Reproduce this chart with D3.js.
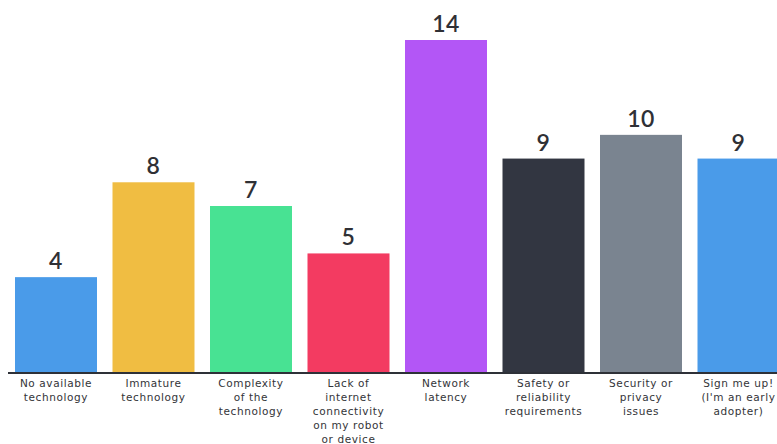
<!DOCTYPE html>
<html>
<head>
<meta charset="utf-8">
<script src="https://cdn.jsdelivr.net/npm/d3@7"></script>
<style>
  html, body { margin: 0; padding: 0; background: #ffffff; overflow: hidden; }
  svg { display: block; }
</style>
</head>
<body>
<svg id="chart" width="777" height="444"></svg>
<script>
// Survey responses: obstacles to remote robot operation
const categories = [
  ["No available", "technology"],
  ["Immature", "technology"],
  ["Complexity", "of the", "technology"],
  ["Lack of", "internet", "connectivity", "on my robot", "or device"],
  ["Network", "latency"],
  ["Safety or", "reliability", "requirements"],
  ["Security or", "privacy", "issues"],
  ["Sign me up!", "(I'm an early", "adopter)"]
];
const values = [4, 8, 7, 5, 14, 9, 10, 9];
const colors = ["#4a9be9", "#f0bd42", "#48e293", "#f33b61", "#b356f6", "#323641", "#7a8490", "#4a9be9"];

const svg = d3.select("#chart");
const baseY = 372;
const keys = categories.map((c, i) => i);

const x = d3.scaleBand()
  .domain(keys)
  .range([7.25, 787.25])
  .paddingInner(0.159)
  .paddingOuter(0.0795);

const y = d3.scaleLinear()
  .domain([0, 14])
  .range([baseY, 40]);

// bars
svg.selectAll("rect.bar")
  .data(values)
  .join("rect")
  .attr("class", "bar")
  .attr("x", (d, i) => x(i))
  .attr("y", d => y(d))
  .attr("width", x.bandwidth())
  .attr("height", d => baseY - y(d))
  .attr("fill", (d, i) => colors[i]);

// value labels
svg.selectAll("text.val")
  .data(values)
  .join("text")
  .attr("class", "val")
  .attr("x", (d, i) => x(i) + x.bandwidth() / 2)
  .attr("y", d => y(d) - 8)
  .attr("text-anchor", "middle")
  .attr("font-family", "Lato, sans-serif")
  .attr("font-weight", 600)
  .attr("font-size", 23)
  .attr("letter-spacing", 0.5)
  .attr("fill", "#2f3035")
  .text(d => d);

// baseline
svg.append("line")
  .attr("x1", 8).attr("x2", 777)
  .attr("y1", baseY + 1).attr("y2", baseY + 1)
  .attr("stroke", "#2e3138")
  .attr("stroke-width", 2);

// category labels
const lab = svg.selectAll("text.cat")
  .data(categories)
  .join("text")
  .attr("class", "cat")
  .attr("text-anchor", "middle")
  .attr("font-family", "'DejaVu Sans', sans-serif")
  .attr("font-size", 10.5)
  .attr("letter-spacing", 0.6)
  .attr("fill", "#333438");

lab.selectAll("tspan")
  .data((d, i) => d.map(line => ({ line, i })))
  .join("tspan")
  .attr("x", d => x(d.i) + x.bandwidth() / 2)
  .attr("y", (d, j) => 387 + j * 14)
  .text(d => d.line);
</script>
</body>
</html>
